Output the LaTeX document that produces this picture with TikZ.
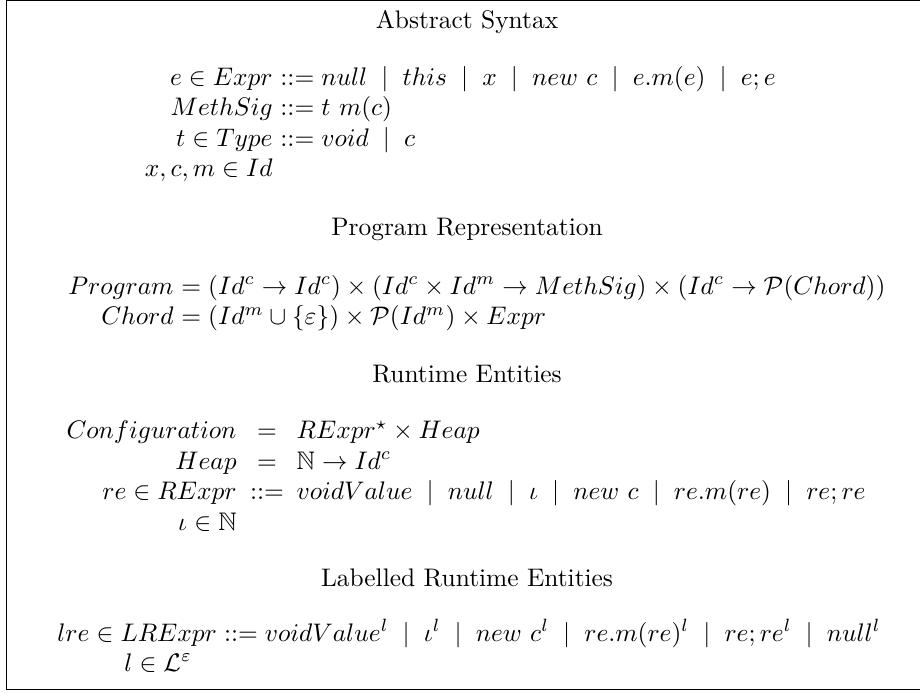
\documentclass[tikz,border=0pt]{standalone}
\usepackage{amsmath,amssymb,graphicx}
\newcommand{\enl}[1]{\scalebox{1.27}{#1}}
% the "=" of a row centred in the width of "::=", with array column gaps
\newcommand{\coleq}{\hspace{5pt}\hphantom{:}{=}\hphantom{:}\hspace{5pt}}
\newcommand{\coldef}{\hspace{5pt}{::=}\hspace{5pt}}
\begin{document}
\begin{tikzpicture}[x=0.5pt,y=-0.5pt,
  heading/.style={anchor=base,inner sep=0pt},
  lhs/.style={anchor=base east,inner sep=0pt},
  rhs/.style={anchor=base west,inner sep=0pt},
  frame/.style={draw=black,line width=0.7pt}]
\useasboundingbox (0,0) rectangle (920,692);
% surrounding box (its right side runs past the page edge)
\draw[frame] (940,0.7) -- (6.5,0.7) -- (6.5,689.5) -- (940,689.5);

% abstract syntax
\node[heading] (hAS) at (467,28) {\enl{Abstract Syntax}};
\node[lhs] (exprL) at (273,85) {\enl{$e\in Expr$}};
\node[rhs] (exprR) at (exprL.base east) {\enl{${}::= null \;\mid\; this \;\mid\; x \;\mid\; new\ c \;\mid\; e.m(e) \;\mid\; e;e$}};
\node[lhs] (sigL) at (273,115.5) {\enl{$MethSig$}};
\node[rhs] (sigR) at (sigL.base east) {\enl{${}::= t\ m(c)$}};
\node[lhs] (typeL) at (273,146) {\enl{$t\in Type$}};
\node[rhs] (typeR) at (typeL.base east) {\enl{${}::= void \;\mid\; c$}};
\node[lhs] (ids) at (273,176.5) {\enl{$x,c,m\in Id$}};

% program representation
\node[heading] (hPR) at (467,235) {\enl{Program Representation}};
\node[lhs] (progL) at (174,294) {\enl{$Program$}};
\node[rhs] (progR) at (progL.base east) {\enl{${}= (Id^c\rightarrow Id^c)\times(Id^c\times Id^m\rightarrow MethSig)\times(Id^c\rightarrow\mathcal{P}(Chord))$}};
\node[lhs] (chordL) at (174,324.5) {\enl{$Chord$}};
\node[rhs] (chordR) at (chordL.base east) {\enl{${}= (Id^m\cup\{\varepsilon\})\times\mathcal{P}(Id^m)\times Expr$}};

% runtime entities
\node[heading] (hRE) at (467,382) {\enl{Runtime Entities}};
\node[lhs] (confL) at (237,438.5) {\enl{$Configuration$}};
\node[rhs] (confR) at (confL.base east) {\enl{$\coleq RExpr^{\star}\times Heap$}};
\node[lhs] (heapL) at (237,469) {\enl{$Heap$}};
\node[rhs] (heapR) at (heapL.base east) {\enl{$\coleq\mathbb{N}\rightarrow Id^c$}};
\node[lhs] (rexprL) at (237,499.5) {\enl{$re\in RExpr$}};
\node[rhs] (rexprR) at (rexprL.base east) {\enl{$\coldef voidValue \;\mid\; null \;\mid\; \iota \;\mid\; new\ c \;\mid\; re.m(re) \;\mid\; re;re$}};
\node[lhs] (iota) at (237,530) {\enl{$\iota\in\mathbb{N}$}};

% labelled runtime entities
\node[heading] (hLR) at (467,586) {\enl{Labelled Runtime Entities}};
\node[rhs] (lrexpr) at (57,641) {\enl{$lre\in LRExpr ::= voidValue^l \;\mid\; \iota^l \;\mid\; new\ c^l \;\mid\; re.m(re)^l \;\mid\; re;re^l \;\mid\; null^l$}};
\node[rhs] (labels) at (124,671) {\enl{$l\in\mathcal{L}^{\varepsilon}$}};
\end{tikzpicture}
\end{document}
